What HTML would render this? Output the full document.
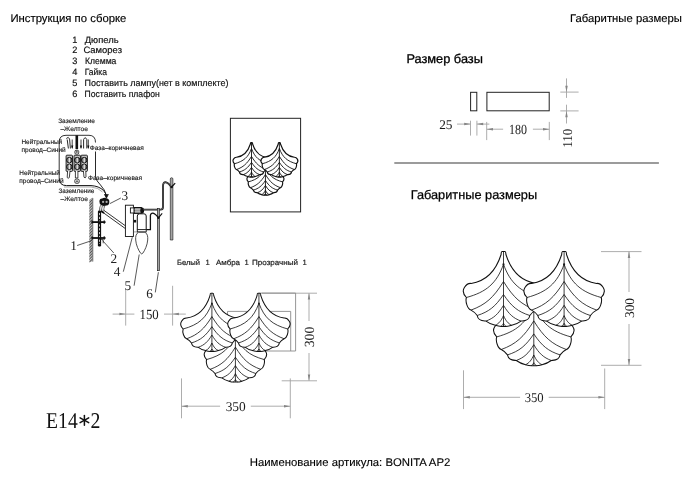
<!DOCTYPE html>
<html><head><meta charset="utf-8"><style>
html,body{margin:0;padding:0;background:#fff;width:700px;height:483px;overflow:hidden}
svg{display:block;will-change:transform}
text{text-rendering:geometricPrecision}

</style></head><body><svg width="700" height="483" viewBox="0 0 700 483"><text x="10.4" y="21.6" font-size="11.2" font-family="'Liberation Sans', sans-serif" fill="#000" textLength="116" lengthAdjust="spacingAndGlyphs" stroke="#000" stroke-width="0.15">Инструкция по сборке</text><text x="570" y="22" font-size="11.2" font-family="'Liberation Sans', sans-serif" fill="#000" textLength="112" lengthAdjust="spacingAndGlyphs" stroke="#000" stroke-width="0.15">Габаритные размеры</text><text x="406.4" y="63.3" font-size="12.6" font-family="'Liberation Sans', sans-serif" fill="#000" textLength="76.5" lengthAdjust="spacingAndGlyphs" stroke="#000" stroke-width="0.3">Размер базы</text><text x="410.7" y="198.9" font-size="12.6" font-family="'Liberation Sans', sans-serif" fill="#000" textLength="126.4" lengthAdjust="spacingAndGlyphs" stroke="#000" stroke-width="0.25">Габаритные размеры</text><text x="249.7" y="465.6" font-size="11.2" font-family="'Liberation Sans', sans-serif" fill="#000" textLength="200.6" lengthAdjust="spacingAndGlyphs" stroke="#000" stroke-width="0.12">Наименование артикула: BONITA AP2</text><text x="72.3" y="42.7" font-size="9.2" font-family="'Liberation Sans', sans-serif" fill="#111" stroke="#111" stroke-width="0.18">1</text><text x="84.7" y="42.7" font-size="9.2" font-family="'Liberation Sans', sans-serif" fill="#111" textLength="33.9" lengthAdjust="spacingAndGlyphs" stroke="#111" stroke-width="0.18">Дюпель</text><text x="72.3" y="53.3" font-size="9.2" font-family="'Liberation Sans', sans-serif" fill="#111" stroke="#111" stroke-width="0.18">2</text><text x="83.4" y="53.3" font-size="9.2" font-family="'Liberation Sans', sans-serif" fill="#111" textLength="38.6" lengthAdjust="spacingAndGlyphs" stroke="#111" stroke-width="0.18">Саморез</text><text x="72.3" y="63.7" font-size="9.2" font-family="'Liberation Sans', sans-serif" fill="#111" stroke="#111" stroke-width="0.18">3</text><text x="84.9" y="63.7" font-size="9.2" font-family="'Liberation Sans', sans-serif" fill="#111" textLength="31.5" lengthAdjust="spacingAndGlyphs" stroke="#111" stroke-width="0.18">Клемма</text><text x="72.3" y="74.6" font-size="9.2" font-family="'Liberation Sans', sans-serif" fill="#111" stroke="#111" stroke-width="0.18">4</text><text x="84.7" y="74.6" font-size="9.2" font-family="'Liberation Sans', sans-serif" fill="#111" textLength="22.3" lengthAdjust="spacingAndGlyphs" stroke="#111" stroke-width="0.18">Гайка</text><text x="72.3" y="85.7" font-size="9.2" font-family="'Liberation Sans', sans-serif" fill="#111" stroke="#111" stroke-width="0.18">5</text><text x="84.5" y="85.7" font-size="9.2" font-family="'Liberation Sans', sans-serif" fill="#111" textLength="143.9" lengthAdjust="spacingAndGlyphs" stroke="#111" stroke-width="0.18">Поставить лампу(нет в комплекте)</text><text x="72.3" y="96.8" font-size="9.2" font-family="'Liberation Sans', sans-serif" fill="#111" stroke="#111" stroke-width="0.18">6</text><text x="84.5" y="96.8" font-size="9.2" font-family="'Liberation Sans', sans-serif" fill="#111" textLength="75.3" lengthAdjust="spacingAndGlyphs" stroke="#111" stroke-width="0.18">Поставить плафон</text><line x1="394.3" y1="163" x2="658.9" y2="163" stroke="#7a7a7a" stroke-width="1.7"/><rect x="470.6" y="92.3" width="6.2" height="18.5" fill="none" stroke="#222" stroke-width="1"/><rect x="486.9" y="92.3" width="62.3" height="18.5" fill="none" stroke="#222" stroke-width="1"/><line x1="470.5" y1="120.7" x2="470.5" y2="135.6" stroke="#a4a4a4" stroke-width="0.9"/><line x1="476.9" y1="120.7" x2="476.9" y2="135.6" stroke="#a4a4a4" stroke-width="0.9"/><line x1="457" y1="124.1" x2="470.5" y2="124.1" stroke="#a4a4a4" stroke-width="0.9"/><polygon points="470.5,124.1 464.2,122.85 464.2,125.35" fill="#858585"/><line x1="476.9" y1="124.1" x2="489.4" y2="124.1" stroke="#a4a4a4" stroke-width="0.9"/><polygon points="476.9,124.1 483.2,122.85 483.2,125.35" fill="#858585"/><text x="445.8" y="128.7" font-size="13.2" font-family="'Liberation Serif', serif" fill="#1a1a1a" text-anchor="middle" textLength="13.3" lengthAdjust="spacingAndGlyphs">25</text><line x1="486.7" y1="121.9" x2="486.7" y2="140.1" stroke="#a4a4a4" stroke-width="0.9"/><line x1="549.3" y1="121.9" x2="549.3" y2="140.1" stroke="#a4a4a4" stroke-width="0.9"/><line x1="486.7" y1="129.2" x2="503.1" y2="129.2" stroke="#a4a4a4" stroke-width="0.9"/><polygon points="486.7,129.2 493,127.95 493,130.45" fill="#858585"/><line x1="532.9" y1="129.2" x2="549.3" y2="129.2" stroke="#a4a4a4" stroke-width="0.9"/><polygon points="549.3,129.2 543,127.95 543,130.45" fill="#858585"/><text x="518.1" y="133.8" font-size="13.9" font-family="'Liberation Serif', serif" fill="#1a1a1a" text-anchor="middle" textLength="18" lengthAdjust="spacingAndGlyphs">180</text><line x1="560.3" y1="92.1" x2="578.6" y2="92.1" stroke="#a4a4a4" stroke-width="0.9"/><line x1="560.3" y1="110.9" x2="578.6" y2="110.9" stroke="#a4a4a4" stroke-width="0.9"/><line x1="566.5" y1="78.4" x2="566.5" y2="97.9" stroke="#a4a4a4" stroke-width="0.9"/><polygon points="566.5,92.1 565.25,85.8 567.75,85.8" fill="#858585"/><line x1="566.5" y1="104.7" x2="566.5" y2="123.5" stroke="#a4a4a4" stroke-width="0.9"/><polygon points="566.5,110.9 565.25,117.2 567.75,117.2" fill="#858585"/><text x="0" y="0" font-size="13.6" font-family="'Liberation Serif', serif" fill="#1a1a1a" text-anchor="middle" textLength="19" lengthAdjust="spacingAndGlyphs" transform="translate(567.1,138.2) rotate(-90) translate(0,4.62)">110</text><line x1="601" y1="251.6" x2="641.5" y2="251.6" stroke="#a4a4a4" stroke-width="0.9"/><line x1="601" y1="365.3" x2="641.5" y2="365.3" stroke="#a4a4a4" stroke-width="0.9"/><line x1="629" y1="251.6" x2="629" y2="292" stroke="#a4a4a4" stroke-width="0.9"/><polygon points="629,251.6 627.75,257.9 630.25,257.9" fill="#858585"/><line x1="629" y1="324" x2="629" y2="365.3" stroke="#a4a4a4" stroke-width="0.9"/><polygon points="629,365.3 627.75,359 630.25,359" fill="#858585"/><text x="0" y="0" font-size="13.4" font-family="'Liberation Serif', serif" fill="#1a1a1a" text-anchor="middle" textLength="20.2" lengthAdjust="spacingAndGlyphs" transform="translate(629.4,308) rotate(-90) translate(0,4.56)">300</text><line x1="463.5" y1="370.3" x2="463.5" y2="409.1" stroke="#a4a4a4" stroke-width="0.9"/><line x1="604.7" y1="368.5" x2="604.7" y2="409.1" stroke="#a4a4a4" stroke-width="0.9"/><line x1="463.5" y1="397.3" x2="520.1" y2="397.3" stroke="#a4a4a4" stroke-width="0.9"/><polygon points="463.5,397.3 469.8,396.05 469.8,398.55" fill="#858585"/><line x1="548.7" y1="397.3" x2="604.7" y2="397.3" stroke="#a4a4a4" stroke-width="0.9"/><polygon points="604.7,397.3 598.4,396.05 598.4,398.55" fill="#858585"/><text x="534.2" y="402.3" font-size="13.4" font-family="'Liberation Serif', serif" fill="#1a1a1a" text-anchor="middle" textLength="19" lengthAdjust="spacingAndGlyphs">350</text><line x1="181.5" y1="378.4" x2="181.5" y2="418.3" stroke="#a4a4a4" stroke-width="0.9"/><line x1="290.3" y1="378.4" x2="290.3" y2="418.3" stroke="#a4a4a4" stroke-width="0.9"/><line x1="181.5" y1="406.2" x2="220.1" y2="406.2" stroke="#a4a4a4" stroke-width="0.9"/><polygon points="181.5,406.2 187.8,404.95 187.8,407.45" fill="#858585"/><line x1="250.8" y1="406.2" x2="290.3" y2="406.2" stroke="#a4a4a4" stroke-width="0.9"/><polygon points="290.3,406.2 284,404.95 284,407.45" fill="#858585"/><text x="235.7" y="410.9" font-size="13.4" font-family="'Liberation Serif', serif" fill="#1a1a1a" text-anchor="middle" textLength="20.1" lengthAdjust="spacingAndGlyphs">350</text><line x1="262" y1="293.2" x2="317" y2="293.2" stroke="#a4a4a4" stroke-width="0.9"/><line x1="281.7" y1="380.8" x2="317" y2="380.8" stroke="#a4a4a4" stroke-width="0.9"/><line x1="309" y1="293.2" x2="309" y2="321" stroke="#a4a4a4" stroke-width="0.9"/><polygon points="309,293.2 307.75,299.5 310.25,299.5" fill="#858585"/><line x1="309" y1="353" x2="309" y2="380.8" stroke="#a4a4a4" stroke-width="0.9"/><polygon points="309,380.8 307.75,374.5 310.25,374.5" fill="#858585"/><text x="0" y="0" font-size="14" font-family="'Liberation Serif', serif" fill="#1a1a1a" text-anchor="middle" textLength="20.6" lengthAdjust="spacingAndGlyphs" transform="translate(309.5,337) rotate(-90) translate(0,4.76)">300</text><line x1="125.7" y1="289.6" x2="125.7" y2="325.6" stroke="#a4a4a4" stroke-width="0.9"/><line x1="172.6" y1="285.8" x2="172.6" y2="325.6" stroke="#a4a4a4" stroke-width="0.9"/><line x1="112.6" y1="314.1" x2="134.4" y2="314.1" stroke="#a4a4a4" stroke-width="0.9"/><polygon points="125.7,314.1 119.4,312.85 119.4,315.35" fill="#858585"/><line x1="164" y1="314.1" x2="185.8" y2="314.1" stroke="#a4a4a4" stroke-width="0.9"/><polygon points="172.6,314.1 178.9,312.85 178.9,315.35" fill="#858585"/><text x="149.1" y="318.9" font-size="14" font-family="'Liberation Serif', serif" fill="#1a1a1a" text-anchor="middle" textLength="19.2" lengthAdjust="spacingAndGlyphs">150</text><path d="M227.5,351 V311.4 H290.7 V351 M259.6,293.1 H295.6 V351 H266" fill="none" stroke="#8a8a8a" stroke-width="0.9"/><text x="46.1" y="428" font-size="22.6" font-family="'Liberation Serif', serif" fill="#111" textLength="31.6" lengthAdjust="spacingAndGlyphs" >E14</text><text x="90.6" y="428" font-size="22.6" font-family="'Liberation Serif', serif" fill="#111" textLength="9.9" lengthAdjust="spacingAndGlyphs" >2</text><g stroke="#111" stroke-width="1.5" stroke-linecap="round"><line x1="84.4" y1="415.4" x2="84.4" y2="425.2"/><line x1="80.1" y1="417.8" x2="88.7" y2="422.6"/><line x1="80.1" y1="422.6" x2="88.7" y2="417.8"/></g><text x="177" y="265.2" font-size="7.6" font-family="'Liberation Sans', sans-serif" fill="#222" textLength="23" lengthAdjust="spacingAndGlyphs" stroke="#222" stroke-width="0.2">Белый</text><text x="205.5" y="265.2" font-size="7.6" font-family="'Liberation Sans', sans-serif" fill="#222" stroke="#222" stroke-width="0.2">1</text><text x="216" y="265.2" font-size="7.6" font-family="'Liberation Sans', sans-serif" fill="#222" textLength="24" lengthAdjust="spacingAndGlyphs" stroke="#222" stroke-width="0.2">Амбра</text><text x="244.5" y="265.2" font-size="7.6" font-family="'Liberation Sans', sans-serif" fill="#222" stroke="#222" stroke-width="0.2">1</text><text x="252" y="265.2" font-size="7.6" font-family="'Liberation Sans', sans-serif" fill="#222" textLength="46" lengthAdjust="spacingAndGlyphs" stroke="#222" stroke-width="0.2">Прозрачный</text><text x="302.5" y="265.2" font-size="7.6" font-family="'Liberation Sans', sans-serif" fill="#222" stroke="#222" stroke-width="0.2">1</text><path d="M59.2,178 V142 Q59.2,135.3 66,135.3 H89 Q95.5,135.3 95.5,142.5" fill="none" stroke="#111" stroke-width="0.85"/><path d="M95.5,151.5 V176" fill="none" stroke="#111" stroke-width="0.9"/><path d="M59.2,178 Q59.2,185.6 66.5,185.6 H91 Q99,186 103.5,190.5 Q106,193 106.2,196" fill="none" stroke="#111" stroke-width="1"/><path d="M64,187 H91 Q98.5,187.5 102.5,192" fill="none" stroke="#555" stroke-width="0.5"/><path d="M95.5,176 Q96,181 100.5,185 Q105,189.5 106.5,196" fill="none" stroke="#111" stroke-width="0.9"/><rect x="75.5" y="135.3" width="2.6" height="13.8" fill="#111"/><rect x="74.9" y="150.3" width="3.8" height="3.8" rx="1.2" fill="#fff" stroke="#111" stroke-width="0.8"/><rect x="74.8" y="179.1" width="4.4" height="4.2" rx="1.4" fill="#fff" stroke="#111" stroke-width="0.8"/><path d="M75.8,181.3 h2.4 M77,180.1 v2.4 M75.6,151.9 h2.4 M76.8,150.7 v2.4" stroke="#111" stroke-width="0.6"/><path d="M66.3,138.5 Q68.5,136 69.6,139 L70.4,148.5 M67.2,139.5 L68.4,148.5" fill="none" stroke="#111" stroke-width="0.9"/><path d="M83.6,148.5 V139.5 Q85.2,136 86.8,139.5 V148.5" fill="none" stroke="#111" stroke-width="0.9"/><path d="M72.2,139.5 V148" stroke="#111" stroke-width="0.8"/><polygon points="71.10000000000001,145.5 73.3,145.5 72.2,149.2" fill="#111"/><path d="M81.0,139.5 V148" stroke="#111" stroke-width="0.8"/><polygon points="79.9,145.5 82.1,145.5 81.0,149.2" fill="#111"/><path d="M88.3,139.5 V148" stroke="#111" stroke-width="0.8"/><polygon points="87.2,145.5 89.39999999999999,145.5 88.3,149.2" fill="#111"/><rect x="66.1" y="155.2" width="6.4" height="16.2" rx="0.8" fill="#c4c4c4" stroke="#111" stroke-width="0.9"/><circle cx="69.3" cy="160.1" r="2.75" fill="#7a7a7a" stroke="#111" stroke-width="1"/><rect x="68.69999999999999" y="157.79999999999998" width="1.2" height="4.6" fill="#eee"/><circle cx="69.3" cy="166.8" r="2.75" fill="#7a7a7a" stroke="#111" stroke-width="1"/><rect x="68.69999999999999" y="164.5" width="1.2" height="4.6" fill="#eee"/><rect x="74.0" y="155.2" width="6.4" height="16.2" rx="0.8" fill="#c4c4c4" stroke="#111" stroke-width="0.9"/><circle cx="77.2" cy="160.1" r="2.75" fill="#7a7a7a" stroke="#111" stroke-width="1"/><rect x="76.6" y="157.79999999999998" width="1.2" height="4.6" fill="#eee"/><circle cx="77.2" cy="166.8" r="2.75" fill="#7a7a7a" stroke="#111" stroke-width="1"/><rect x="76.6" y="164.5" width="1.2" height="4.6" fill="#eee"/><rect x="81.0" y="155.2" width="6.4" height="16.2" rx="0.8" fill="#c4c4c4" stroke="#111" stroke-width="0.9"/><circle cx="84.2" cy="160.1" r="2.75" fill="#7a7a7a" stroke="#111" stroke-width="1"/><rect x="83.6" y="157.79999999999998" width="1.2" height="4.6" fill="#eee"/><circle cx="84.2" cy="166.8" r="2.75" fill="#7a7a7a" stroke="#111" stroke-width="1"/><rect x="83.6" y="164.5" width="1.2" height="4.6" fill="#eee"/><path d="M67.6,171 L67.2,177.5 Q68,179 69.3,177.6 L70,171 M75.4,171 V178 H77.9 V171 M83.4,171 L84,177.2 Q85.3,178.7 86,177 L85.8,171" fill="#fff" stroke="#111" stroke-width="0.8"/><text x="58.2" y="123.1" font-size="6.5" font-family="'Liberation Sans', sans-serif" fill="#1a1a1a" textLength="36.8" lengthAdjust="spacingAndGlyphs" stroke="#1a1a1a" stroke-width="0.14">Заземление</text><text x="60.4" y="130.9" font-size="6.5" font-family="'Liberation Sans', sans-serif" fill="#1a1a1a" textLength="27.5" lengthAdjust="spacingAndGlyphs" stroke="#1a1a1a" stroke-width="0.14">–Желтое</text><text x="21.5" y="144.2" font-size="6.5" font-family="'Liberation Sans', sans-serif" fill="#1a1a1a" textLength="40.6" lengthAdjust="spacingAndGlyphs" stroke="#1a1a1a" stroke-width="0.14">Нейтральный</text><text x="21.5" y="152" font-size="6.5" font-family="'Liberation Sans', sans-serif" fill="#1a1a1a" textLength="44.2" lengthAdjust="spacingAndGlyphs" stroke="#1a1a1a" stroke-width="0.14">провод–Синий</text><text x="19.3" y="174.9" font-size="6.5" font-family="'Liberation Sans', sans-serif" fill="#1a1a1a" textLength="40.6" lengthAdjust="spacingAndGlyphs" stroke="#1a1a1a" stroke-width="0.14">Нейтральный</text><text x="19.3" y="182.6" font-size="6.5" font-family="'Liberation Sans', sans-serif" fill="#1a1a1a" textLength="44.3" lengthAdjust="spacingAndGlyphs" stroke="#1a1a1a" stroke-width="0.14">провод–Синий</text><text x="89.7" y="149.8" font-size="6.5" font-family="'Liberation Sans', sans-serif" fill="#1a1a1a" textLength="54" lengthAdjust="spacingAndGlyphs" stroke="#1a1a1a" stroke-width="0.14">Фаза–коричневая</text><text x="88" y="179.8" font-size="6.5" font-family="'Liberation Sans', sans-serif" fill="#1a1a1a" textLength="54" lengthAdjust="spacingAndGlyphs" stroke="#1a1a1a" stroke-width="0.14">Фаза–коричневая</text><text x="58.4" y="193.3" font-size="6.5" font-family="'Liberation Sans', sans-serif" fill="#1a1a1a" textLength="36" lengthAdjust="spacingAndGlyphs" stroke="#1a1a1a" stroke-width="0.14">Заземление</text><text x="60.6" y="200.6" font-size="6.5" font-family="'Liberation Sans', sans-serif" fill="#1a1a1a" textLength="27.4" lengthAdjust="spacingAndGlyphs" stroke="#1a1a1a" stroke-width="0.14">–Желтое</text><defs><pattern id="hatch" width="2" height="2" patternUnits="userSpaceOnUse" patternTransform="rotate(45)"><rect width="2" height="2" fill="#c8c8c8"/><rect width="1" height="2" fill="#555"/></pattern></defs><path d="M89.3,200 L92.6,197.6 V261.3 L89.3,262.5 Z" fill="url(#hatch)"/><line x1="92.8" y1="198" x2="92.8" y2="261.5" stroke="#444" stroke-width="0.7"/><rect x="97.9" y="210.5" width="3.2" height="36" rx="1.2" fill="#111"/><line x1="99.5" y1="213" x2="99.5" y2="244" stroke="#ddd" stroke-width="0.9" stroke-dasharray="2.2,1.6"/><rect x="91.5" y="221.2" width="14" height="1.8" fill="#111"/><path d="M92.2,220.5 v3.2 M104.2,220.29999999999998 v3.6" stroke="#111" stroke-width="1"/><rect x="91.5" y="237.1" width="14" height="1.8" fill="#111"/><path d="M92.2,236.4 v3.2 M104.2,236.2 v3.6" stroke="#111" stroke-width="1"/><path d="M101,239.5 h2.2 v3.8" fill="none" stroke="#111" stroke-width="0.7"/><path d="M104.4,194.2 L106.4,198.2 L108.4,194.2" fill="#111" stroke="#111" stroke-width="0.8"/><path d="M99.4,201.5 Q99.4,198.6 102.2,198.5 Q104,197.2 106.4,198.2 Q109.6,198.6 109.3,202 Q109.4,205.2 106.4,205.6 Q104,206.5 101.6,205.6 Q99.3,204.6 99.4,201.5 Z" fill="#111"/><circle cx="103.1" cy="201.9" r="1.15" fill="#aaa"/><circle cx="106.6" cy="201.9" r="1.15" fill="#aaa"/><path d="M100.6,205.2 Q99.2,208 99.4,211 M102.6,205.8 Q101.2,208.5 101.4,211.2 M104.8,205.8 Q103.6,208.5 103.8,211" fill="none" stroke="#333" stroke-width="0.7"/><path d="M101.6,205.5 Q100.2,208.2 100.4,211 M103.7,205.9 Q102.4,208.6 102.6,211.1" fill="none" stroke="#bbb" stroke-width="0.6"/><path d="M101.5,211.4 L125.4,228.6 M103.8,210.3 L125.4,225.8" fill="none" stroke="#111" stroke-width="0.85"/><path d="M101,211 L104,213" stroke="#111" stroke-width="2"/><rect x="125.4" y="205.2" width="8" height="31.3" fill="#fff" stroke="#111" stroke-width="0.9"/><rect x="130.4" y="207.9" width="3.8" height="5.1" fill="#fff" stroke="#111" stroke-width="0.9"/><rect x="134.2" y="207.5" width="7.2" height="5.9" fill="#9a9a9a" stroke="#111" stroke-width="1"/><path d="M134.6,209.5 H141 M134.6,211.4 H141" stroke="#d0d0d0" stroke-width="0.6"/><ellipse cx="142.2" cy="210.45" rx="1.9" ry="3" fill="#111"/><path d="M143.5,209.6 H160.6 Q163,209.6 163,207 V186 Q163,181.8 166,182.3 Q168.3,182.9 171.6,187" fill="none" stroke="#1e1e1e" stroke-width="1.9"/><path d="M143.5,209.6 H160.6 Q163,209.6 163,207 V186 Q163,181.8 166,182.3 Q168.3,182.9 171.6,187" fill="none" stroke="#8a8a8a" stroke-width="0.5"/><path d="M170.3,240 V179 Q170.3,177.7 171.6,177.7 Q172.9,177.7 172.9,179 V240 Z" fill="#a5a5a5" stroke="#111" stroke-width="0.6"/><path d="M171.6,187 L175.2,183.1" stroke="#111" stroke-width="1.2"/><circle cx="171.6" cy="187" r="1.3" fill="#111"/><rect x="157.3" y="208.6" width="2.2" height="62.1" fill="#a5a5a5" stroke="#111" stroke-width="0.6"/><path d="M137.3,229.6 V216 Q137.3,213.8 139.6,213.8 H143.9 Q146.2,213.8 146.2,216 V229.6" fill="#fff" stroke="#111" stroke-width="1"/><rect x="137.3" y="229.6" width="8.9" height="2.3" fill="#fff" stroke="#111" stroke-width="0.9"/><path d="M133.5,231.9 H137.3" stroke="#555" stroke-width="0.6"/><path d="M146.2,229.6 H150.4 V215.6 Q150.6,213 153,213.2 Q155.2,213.6 158.4,217.8" fill="none" stroke="#111" stroke-width="1.3"/><path d="M158.4,217.8 L162.2,213.4" stroke="#111" stroke-width="1.1"/><circle cx="158.4" cy="217.8" r="1.2" fill="#111"/><rect x="133.8" y="219.9" width="2.4" height="2.6" fill="#111"/><path d="M138.5,232.3 C136,233.5 135.4,236.5 135.7,240 C136,245 138.6,250.5 140.6,253.2 Q141.7,254.6 142.8,253.2 C144.8,250.5 147.4,245 147.7,240 C148,236.5 147.4,233.5 145,232.3 Z" fill="#fff" stroke="#222" stroke-width="0.8"/><line x1="77.1" y1="245.5" x2="92.1" y2="240.5" stroke="#222" stroke-width="0.75"/><line x1="113.8" y1="253" x2="102.5" y2="240.5" stroke="#222" stroke-width="0.75"/><line x1="120.8" y1="198" x2="109.9" y2="203.6" stroke="#222" stroke-width="0.75"/><line x1="123.3" y1="271.7" x2="132.3" y2="237.2" stroke="#222" stroke-width="0.75"/><line x1="134.1" y1="285.7" x2="139.2" y2="254.5" stroke="#222" stroke-width="0.75"/><line x1="155.3" y1="292.4" x2="158.4" y2="272.2" stroke="#222" stroke-width="0.75"/><text x="70.3" y="250.4" font-size="13.3" font-family="'Liberation Serif', serif" fill="#222" >1</text><text x="110.5" y="263.3" font-size="13.3" font-family="'Liberation Serif', serif" fill="#222" >2</text><text x="121.5" y="199.6" font-size="13.3" font-family="'Liberation Serif', serif" fill="#222" >3</text><text x="113.8" y="276.4" font-size="13.3" font-family="'Liberation Serif', serif" fill="#222" >4</text><text x="124.6" y="289.8" font-size="13.3" font-family="'Liberation Serif', serif" fill="#222" >5</text><text x="146.3" y="297.6" font-size="13.3" font-family="'Liberation Serif', serif" fill="#222" >6</text><rect x="230.4" y="118.3" width="70.2" height="93.6" fill="none" stroke="#222" stroke-width="1"/><g transform="translate(265.44,160.72) scale(0.46)"><path d="M-2.4,3 C-2.4,1.2 -2.1,0 -1.3,0 H1.3 C2.1,0 2.4,1.2 2.4,3 C8.71,22.84 20.58,30.16 32.4,31.9 C36.48,31.51 44.68,38.25 37.1,46 C38.36,49.83 36.1,57.66 32.5,58.6 Q28.6,60.6 26.3,64 C25.3,70.31 18.69,69.22 17.5,69.6 Q13.5,72.6 8.2,73.8 Q4,75.3 0,74.8 Q-4,75.3 -8.2,73.8 Q-13.5,72.6 -17.5,69.6 C-18.69,69.22 -25.3,70.31 -26.3,64 Q-28.6,60.6 -32.5,58.6 C-36.1,57.66 -38.36,49.83 -37.1,46 C-44.68,38.25 -36.48,31.51 -32.4,31.9 C-20.58,30.16 -8.71,22.84 -2.4,3 Z" fill="#fff" stroke="#111" stroke-width="1.15" vector-effect="non-scaling-stroke"/><path d="M0,12.8C6.9,31.88 17.15,40.58 37.1,46 M0,30C9.97,46.27 17.92,53.21 32.5,58.6 M0,43C8.07,55.08 14.49,60.23 26.3,64 M0,53.8C5.39,62.76 9.68,66.58 17.5,69.6 M0,64.1C2.53,69.6 4.53,71.95 8.2,73.8 M0,71.8C0.86,73.5 1.55,74.2 2.8,74.8 M0,12.8C-6.9,31.88 -17.15,40.58 -37.1,46 M0,30C-9.97,46.27 -17.92,53.21 -32.5,58.6 M0,43C-8.07,55.08 -14.49,60.23 -26.3,64 M0,53.8C-5.39,62.76 -9.68,66.58 -17.5,69.6 M0,64.1C-2.53,69.6 -4.53,71.95 -8.2,73.8 M0,71.8C-0.86,73.5 -1.55,74.2 -2.8,74.8 M0,0.3V74.8" fill="none" stroke="#111" stroke-width="0.9" vector-effect="non-scaling-stroke"/><circle cx="0" cy="12.8" r="1.1" fill="#1a1a1a"/></g><g transform="translate(251.5,142.6) scale(0.46)"><path d="M-2.4,3 C-2.4,1.2 -2.1,0 -1.3,0 H1.3 C2.1,0 2.4,1.2 2.4,3 C8.71,22.84 20.58,30.16 32.4,31.9 C36.48,31.51 44.68,38.25 37.1,46 C38.36,49.83 36.1,57.66 32.5,58.6 Q28.6,60.6 26.3,64 C25.3,70.31 18.69,69.22 17.5,69.6 Q13.5,72.6 8.2,73.8 Q4,75.3 0,74.8 Q-4,75.3 -8.2,73.8 Q-13.5,72.6 -17.5,69.6 C-18.69,69.22 -25.3,70.31 -26.3,64 Q-28.6,60.6 -32.5,58.6 C-36.1,57.66 -38.36,49.83 -37.1,46 C-44.68,38.25 -36.48,31.51 -32.4,31.9 C-20.58,30.16 -8.71,22.84 -2.4,3 Z" fill="#fff" stroke="#111" stroke-width="1.15" vector-effect="non-scaling-stroke"/><path d="M0,12.8C6.9,31.88 17.15,40.58 37.1,46 M0,30C9.97,46.27 17.92,53.21 32.5,58.6 M0,43C8.07,55.08 14.49,60.23 26.3,64 M0,53.8C5.39,62.76 9.68,66.58 17.5,69.6 M0,64.1C2.53,69.6 4.53,71.95 8.2,73.8 M0,71.8C0.86,73.5 1.55,74.2 2.8,74.8 M0,12.8C-6.9,31.88 -17.15,40.58 -37.1,46 M0,30C-9.97,46.27 -17.92,53.21 -32.5,58.6 M0,43C-8.07,55.08 -14.49,60.23 -26.3,64 M0,53.8C-5.39,62.76 -9.68,66.58 -17.5,69.6 M0,64.1C-2.53,69.6 -4.53,71.95 -8.2,73.8 M0,71.8C-0.86,73.5 -1.55,74.2 -2.8,74.8 M0,0.3V74.8" fill="none" stroke="#111" stroke-width="0.9" vector-effect="non-scaling-stroke"/><circle cx="0" cy="12.8" r="1.1" fill="#1a1a1a"/></g><g transform="translate(279.38,142.6) scale(0.46)"><path d="M-2.4,3 C-2.4,1.2 -2.1,0 -1.3,0 H1.3 C2.1,0 2.4,1.2 2.4,3 C8.71,22.84 20.58,30.16 32.4,31.9 C36.48,31.51 44.68,38.25 37.1,46 C38.36,49.83 36.1,57.66 32.5,58.6 Q28.6,60.6 26.3,64 C25.3,70.31 18.69,69.22 17.5,69.6 Q13.5,72.6 8.2,73.8 Q4,75.3 0,74.8 Q-4,75.3 -8.2,73.8 Q-13.5,72.6 -17.5,69.6 C-18.69,69.22 -25.3,70.31 -26.3,64 Q-28.6,60.6 -32.5,58.6 C-36.1,57.66 -38.36,49.83 -37.1,46 C-44.68,38.25 -36.48,31.51 -32.4,31.9 C-20.58,30.16 -8.71,22.84 -2.4,3 Z" fill="#fff" stroke="#111" stroke-width="1.15" vector-effect="non-scaling-stroke"/><path d="M0,12.8C6.9,31.88 17.15,40.58 37.1,46 M0,30C9.97,46.27 17.92,53.21 32.5,58.6 M0,43C8.07,55.08 14.49,60.23 26.3,64 M0,53.8C5.39,62.76 9.68,66.58 17.5,69.6 M0,64.1C2.53,69.6 4.53,71.95 8.2,73.8 M0,71.8C0.86,73.5 1.55,74.2 2.8,74.8 M0,12.8C-6.9,31.88 -17.15,40.58 -37.1,46 M0,30C-9.97,46.27 -17.92,53.21 -32.5,58.6 M0,43C-8.07,55.08 -14.49,60.23 -26.3,64 M0,53.8C-5.39,62.76 -9.68,66.58 -17.5,69.6 M0,64.1C-2.53,69.6 -4.53,71.95 -8.2,73.8 M0,71.8C-0.86,73.5 -1.55,74.2 -2.8,74.8 M0,0.3V74.8" fill="none" stroke="#111" stroke-width="0.9" vector-effect="non-scaling-stroke"/><circle cx="0" cy="12.8" r="1.1" fill="#1a1a1a"/></g><g transform="translate(235.41,323.87) scale(0.776)"><path d="M-2.4,3 C-2.4,1.2 -2.1,0 -1.3,0 H1.3 C2.1,0 2.4,1.2 2.4,3 C8.71,22.84 20.58,30.16 32.4,31.9 C36.48,31.51 44.68,38.25 37.1,46 C38.36,49.83 36.1,57.66 32.5,58.6 Q28.6,60.6 26.3,64 C25.3,70.31 18.69,69.22 17.5,69.6 Q13.5,72.6 8.2,73.8 Q4,75.3 0,74.8 Q-4,75.3 -8.2,73.8 Q-13.5,72.6 -17.5,69.6 C-18.69,69.22 -25.3,70.31 -26.3,64 Q-28.6,60.6 -32.5,58.6 C-36.1,57.66 -38.36,49.83 -37.1,46 C-44.68,38.25 -36.48,31.51 -32.4,31.9 C-20.58,30.16 -8.71,22.84 -2.4,3 Z" fill="#fff" stroke="#111" stroke-width="1.035" vector-effect="non-scaling-stroke"/><path d="M0,12.8C6.9,31.88 17.15,40.58 37.1,46 M0,30C9.97,46.27 17.92,53.21 32.5,58.6 M0,43C8.07,55.08 14.49,60.23 26.3,64 M0,53.8C5.39,62.76 9.68,66.58 17.5,69.6 M0,64.1C2.53,69.6 4.53,71.95 8.2,73.8 M0,71.8C0.86,73.5 1.55,74.2 2.8,74.8 M0,12.8C-6.9,31.88 -17.15,40.58 -37.1,46 M0,30C-9.97,46.27 -17.92,53.21 -32.5,58.6 M0,43C-8.07,55.08 -14.49,60.23 -26.3,64 M0,53.8C-5.39,62.76 -9.68,66.58 -17.5,69.6 M0,64.1C-2.53,69.6 -4.53,71.95 -8.2,73.8 M0,71.8C-0.86,73.5 -1.55,74.2 -2.8,74.8 M0,0.3V74.8" fill="none" stroke="#111" stroke-width="0.81" vector-effect="non-scaling-stroke"/><circle cx="0" cy="12.8" r="1.1" fill="#1a1a1a"/></g><g transform="translate(211.9,293.3) scale(0.776)"><path d="M-2.4,3 C-2.4,1.2 -2.1,0 -1.3,0 H1.3 C2.1,0 2.4,1.2 2.4,3 C8.71,22.84 20.58,30.16 32.4,31.9 C36.48,31.51 44.68,38.25 37.1,46 C38.36,49.83 36.1,57.66 32.5,58.6 Q28.6,60.6 26.3,64 C25.3,70.31 18.69,69.22 17.5,69.6 Q13.5,72.6 8.2,73.8 Q4,75.3 0,74.8 Q-4,75.3 -8.2,73.8 Q-13.5,72.6 -17.5,69.6 C-18.69,69.22 -25.3,70.31 -26.3,64 Q-28.6,60.6 -32.5,58.6 C-36.1,57.66 -38.36,49.83 -37.1,46 C-44.68,38.25 -36.48,31.51 -32.4,31.9 C-20.58,30.16 -8.71,22.84 -2.4,3 Z" fill="#fff" stroke="#111" stroke-width="1.035" vector-effect="non-scaling-stroke"/><path d="M0,12.8C6.9,31.88 17.15,40.58 37.1,46 M0,30C9.97,46.27 17.92,53.21 32.5,58.6 M0,43C8.07,55.08 14.49,60.23 26.3,64 M0,53.8C5.39,62.76 9.68,66.58 17.5,69.6 M0,64.1C2.53,69.6 4.53,71.95 8.2,73.8 M0,71.8C0.86,73.5 1.55,74.2 2.8,74.8 M0,12.8C-6.9,31.88 -17.15,40.58 -37.1,46 M0,30C-9.97,46.27 -17.92,53.21 -32.5,58.6 M0,43C-8.07,55.08 -14.49,60.23 -26.3,64 M0,53.8C-5.39,62.76 -9.68,66.58 -17.5,69.6 M0,64.1C-2.53,69.6 -4.53,71.95 -8.2,73.8 M0,71.8C-0.86,73.5 -1.55,74.2 -2.8,74.8 M0,0.3V74.8" fill="none" stroke="#111" stroke-width="0.81" vector-effect="non-scaling-stroke"/><circle cx="0" cy="12.8" r="1.1" fill="#1a1a1a"/></g><g transform="translate(258.93,293.3) scale(0.776)"><path d="M-2.4,3 C-2.4,1.2 -2.1,0 -1.3,0 H1.3 C2.1,0 2.4,1.2 2.4,3 C8.71,22.84 20.58,30.16 32.4,31.9 C36.48,31.51 44.68,38.25 37.1,46 C38.36,49.83 36.1,57.66 32.5,58.6 Q28.6,60.6 26.3,64 C25.3,70.31 18.69,69.22 17.5,69.6 Q13.5,72.6 8.2,73.8 Q4,75.3 0,74.8 Q-4,75.3 -8.2,73.8 Q-13.5,72.6 -17.5,69.6 C-18.69,69.22 -25.3,70.31 -26.3,64 Q-28.6,60.6 -32.5,58.6 C-36.1,57.66 -38.36,49.83 -37.1,46 C-44.68,38.25 -36.48,31.51 -32.4,31.9 C-20.58,30.16 -8.71,22.84 -2.4,3 Z" fill="#fff" stroke="#111" stroke-width="1.035" vector-effect="non-scaling-stroke"/><path d="M0,12.8C6.9,31.88 17.15,40.58 37.1,46 M0,30C9.97,46.27 17.92,53.21 32.5,58.6 M0,43C8.07,55.08 14.49,60.23 26.3,64 M0,53.8C5.39,62.76 9.68,66.58 17.5,69.6 M0,64.1C2.53,69.6 4.53,71.95 8.2,73.8 M0,71.8C0.86,73.5 1.55,74.2 2.8,74.8 M0,12.8C-6.9,31.88 -17.15,40.58 -37.1,46 M0,30C-9.97,46.27 -17.92,53.21 -32.5,58.6 M0,43C-8.07,55.08 -14.49,60.23 -26.3,64 M0,53.8C-5.39,62.76 -9.68,66.58 -17.5,69.6 M0,64.1C-2.53,69.6 -4.53,71.95 -8.2,73.8 M0,71.8C-0.86,73.5 -1.55,74.2 -2.8,74.8 M0,0.3V74.8" fill="none" stroke="#111" stroke-width="0.81" vector-effect="non-scaling-stroke"/><circle cx="0" cy="12.8" r="1.1" fill="#1a1a1a"/></g><g transform="translate(533.8,290.9) scale(1.0)"><path d="M-2.4,3 C-2.4,1.2 -2.1,0 -1.3,0 H1.3 C2.1,0 2.4,1.2 2.4,3 C8.71,22.84 20.58,30.16 32.4,31.9 C36.48,31.51 44.68,38.25 37.1,46 C38.36,49.83 36.1,57.66 32.5,58.6 Q28.6,60.6 26.3,64 C25.3,70.31 18.69,69.22 17.5,69.6 Q13.5,72.6 8.2,73.8 Q4,75.3 0,74.8 Q-4,75.3 -8.2,73.8 Q-13.5,72.6 -17.5,69.6 C-18.69,69.22 -25.3,70.31 -26.3,64 Q-28.6,60.6 -32.5,58.6 C-36.1,57.66 -38.36,49.83 -37.1,46 C-44.68,38.25 -36.48,31.51 -32.4,31.9 C-20.58,30.16 -8.71,22.84 -2.4,3 Z" fill="#fff" stroke="#111" stroke-width="1.035" vector-effect="non-scaling-stroke"/><path d="M0,12.8C6.9,31.88 17.15,40.58 37.1,46 M0,30C9.97,46.27 17.92,53.21 32.5,58.6 M0,43C8.07,55.08 14.49,60.23 26.3,64 M0,53.8C5.39,62.76 9.68,66.58 17.5,69.6 M0,64.1C2.53,69.6 4.53,71.95 8.2,73.8 M0,71.8C0.86,73.5 1.55,74.2 2.8,74.8 M0,12.8C-6.9,31.88 -17.15,40.58 -37.1,46 M0,30C-9.97,46.27 -17.92,53.21 -32.5,58.6 M0,43C-8.07,55.08 -14.49,60.23 -26.3,64 M0,53.8C-5.39,62.76 -9.68,66.58 -17.5,69.6 M0,64.1C-2.53,69.6 -4.53,71.95 -8.2,73.8 M0,71.8C-0.86,73.5 -1.55,74.2 -2.8,74.8 M0,0.3V74.8" fill="none" stroke="#111" stroke-width="0.81" vector-effect="non-scaling-stroke"/><circle cx="0" cy="12.8" r="1.1" fill="#1a1a1a"/></g><g transform="translate(503.5,251.5) scale(1.0)"><path d="M-2.4,3 C-2.4,1.2 -2.1,0 -1.3,0 H1.3 C2.1,0 2.4,1.2 2.4,3 C8.71,22.84 20.58,30.16 32.4,31.9 C36.48,31.51 44.68,38.25 37.1,46 C38.36,49.83 36.1,57.66 32.5,58.6 Q28.6,60.6 26.3,64 C25.3,70.31 18.69,69.22 17.5,69.6 Q13.5,72.6 8.2,73.8 Q4,75.3 0,74.8 Q-4,75.3 -8.2,73.8 Q-13.5,72.6 -17.5,69.6 C-18.69,69.22 -25.3,70.31 -26.3,64 Q-28.6,60.6 -32.5,58.6 C-36.1,57.66 -38.36,49.83 -37.1,46 C-44.68,38.25 -36.48,31.51 -32.4,31.9 C-20.58,30.16 -8.71,22.84 -2.4,3 Z" fill="#fff" stroke="#111" stroke-width="1.035" vector-effect="non-scaling-stroke"/><path d="M0,12.8C6.9,31.88 17.15,40.58 37.1,46 M0,30C9.97,46.27 17.92,53.21 32.5,58.6 M0,43C8.07,55.08 14.49,60.23 26.3,64 M0,53.8C5.39,62.76 9.68,66.58 17.5,69.6 M0,64.1C2.53,69.6 4.53,71.95 8.2,73.8 M0,71.8C0.86,73.5 1.55,74.2 2.8,74.8 M0,12.8C-6.9,31.88 -17.15,40.58 -37.1,46 M0,30C-9.97,46.27 -17.92,53.21 -32.5,58.6 M0,43C-8.07,55.08 -14.49,60.23 -26.3,64 M0,53.8C-5.39,62.76 -9.68,66.58 -17.5,69.6 M0,64.1C-2.53,69.6 -4.53,71.95 -8.2,73.8 M0,71.8C-0.86,73.5 -1.55,74.2 -2.8,74.8 M0,0.3V74.8" fill="none" stroke="#111" stroke-width="0.81" vector-effect="non-scaling-stroke"/><circle cx="0" cy="12.8" r="1.1" fill="#1a1a1a"/></g><g transform="translate(564.1,251.5) scale(1.0)"><path d="M-2.4,3 C-2.4,1.2 -2.1,0 -1.3,0 H1.3 C2.1,0 2.4,1.2 2.4,3 C8.71,22.84 20.58,30.16 32.4,31.9 C36.48,31.51 44.68,38.25 37.1,46 C38.36,49.83 36.1,57.66 32.5,58.6 Q28.6,60.6 26.3,64 C25.3,70.31 18.69,69.22 17.5,69.6 Q13.5,72.6 8.2,73.8 Q4,75.3 0,74.8 Q-4,75.3 -8.2,73.8 Q-13.5,72.6 -17.5,69.6 C-18.69,69.22 -25.3,70.31 -26.3,64 Q-28.6,60.6 -32.5,58.6 C-36.1,57.66 -38.36,49.83 -37.1,46 C-44.68,38.25 -36.48,31.51 -32.4,31.9 C-20.58,30.16 -8.71,22.84 -2.4,3 Z" fill="#fff" stroke="#111" stroke-width="1.035" vector-effect="non-scaling-stroke"/><path d="M0,12.8C6.9,31.88 17.15,40.58 37.1,46 M0,30C9.97,46.27 17.92,53.21 32.5,58.6 M0,43C8.07,55.08 14.49,60.23 26.3,64 M0,53.8C5.39,62.76 9.68,66.58 17.5,69.6 M0,64.1C2.53,69.6 4.53,71.95 8.2,73.8 M0,71.8C0.86,73.5 1.55,74.2 2.8,74.8 M0,12.8C-6.9,31.88 -17.15,40.58 -37.1,46 M0,30C-9.97,46.27 -17.92,53.21 -32.5,58.6 M0,43C-8.07,55.08 -14.49,60.23 -26.3,64 M0,53.8C-5.39,62.76 -9.68,66.58 -17.5,69.6 M0,64.1C-2.53,69.6 -4.53,71.95 -8.2,73.8 M0,71.8C-0.86,73.5 -1.55,74.2 -2.8,74.8 M0,0.3V74.8" fill="none" stroke="#111" stroke-width="0.81" vector-effect="non-scaling-stroke"/><circle cx="0" cy="12.8" r="1.1" fill="#1a1a1a"/></g></svg></body></html>
